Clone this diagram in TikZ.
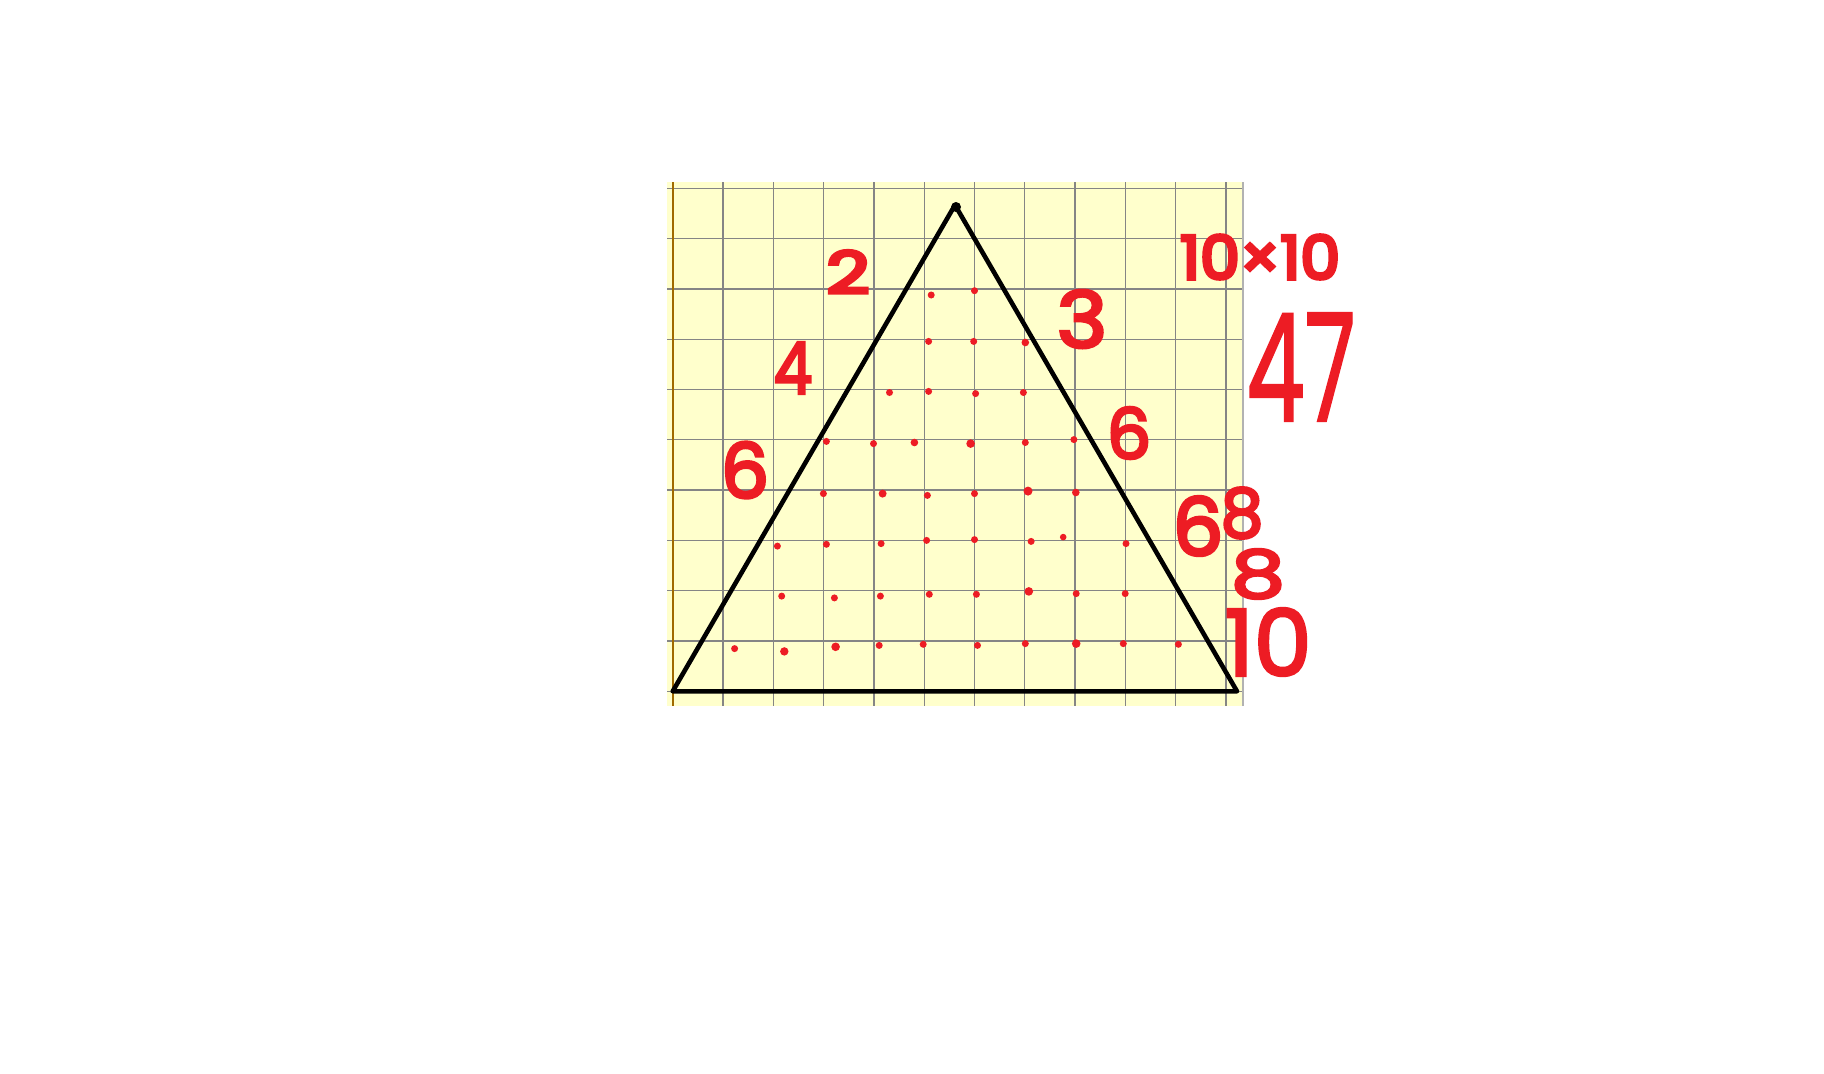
\documentclass[tikz,border=0pt]{standalone}
\usepackage{fontspec}
\usepackage{graphicx}
\setmainfont{Poppins}
\newfontfamily\handA{Poppins}[FakeBold=6]
\newfontfamily\handB{Poppins}[FakeBold=4]
\newfontfamily\handC{Poppins}[FakeBold=3]
\newfontfamily\handD{Poppins}[FakeBold=1.5]
\definecolor{paper}{HTML}{FFFFCC}
\definecolor{pen}{HTML}{ED1C24}
\definecolor{gridgray}{HTML}{858585}
\definecolor{marginline}{HTML}{A06A00}
\tikzset{
  gridline/.style={gridgray, line width=1.3pt},
  shape line/.style={black, line width=4.6pt, line join=round, line cap=round},
  pendot/.style={fill=pen},
  hand/.style={text=pen, inner sep=0pt, anchor=center},
}
\newcommand{\handsz}[1]{\fontsize{#1}{#1}\selectfont}
\begin{document}
\begin{tikzpicture}[x=1pt,y=-1pt]
\useasboundingbox[fill=white] (0,0) rectangle (1824,1074);
% paper
\fill[paper] (667,182) rectangle (1243,706);
\foreach \k in {1,...,11}
  \draw[gridline] ({672.7+50.3*\k},182) -- ({672.7+50.3*\k},706);
\foreach \j in {0,...,10}
  \draw[gridline] (667,{188.3+50.3*\j}) -- (1243,{188.3+50.3*\j});
\draw[gray!60, line width=1.5pt] (1243,182) -- (1243,706);
\draw[marginline, line width=2.2pt] (672.7,182) -- (672.7,706);
% triangle
\coordinate (A) at (672.7,691.3);
\coordinate (B) at (1237,691.3);
\coordinate (C) at (955,205);
\draw[shape line] (A) -- (C) -- (B) -- cycle;
\fill (956,207) circle (5);
% dots
\foreach \x/\y/\r in {
  931.2/295.0/3.5, 974.5/290.7/3.5,
  928.6/341.4/3.5, 973.7/341.4/3.5, 1025.3/342.5/3.8,
  889.5/392.5/3.5, 928.6/391.4/3.5, 975.6/393.6/3.5, 1023.4/392.5/3.5,
  826.4/441.4/3.5, 873.5/443.6/3.5, 914.4/442.5/3.8, 970.6/443.6/4.3, 1025.3/442.5/3.5, 1073.9/439.6/3.5,
  823.4/493.6/3.5, 882.6/493.6/4.0, 927.4/495.4/3.5, 974.5/493.6/3.5, 1028.0/491.1/4.5, 1075.8/492.5/3.8,
  777.4/546.1/3.5, 826.4/544.3/3.5, 881.1/543.6/3.5, 926.6/540.4/3.5, 974.5/539.6/3.5, 1031.1/541.4/3.5, 1063.2/537.1/3.3, 1126.0/543.6/3.5,
  781.7/596.1/3.5, 834.4/597.9/3.5, 880.4/596.1/3.5, 929.3/594.3/3.5, 976.4/594.3/3.5, 1028.8/591.4/4.3, 1076.2/593.6/3.5, 1125.2/593.6/3.5,
  734.6/648.6/3.5, 784.3/651.4/4.2, 835.6/646.8/4.3, 879.2/645.4/3.5, 923.2/644.3/3.5, 977.5/645.4/3.5, 1025.3/643.6/3.5, 1076.2/643.6/4.3, 1123.3/643.6/3.5, 1178.4/644.3/3.5}
  \fill[pendot] (\x,\y) circle (\r);
% handwritten labels
\node[hand, font=\handsz{58}\handA] (l2) at (848,272) {\scalebox{1.3}[1]{2}};
\node[hand, font=\handsz{72}\handB] (l4) at (793,368) {\scalebox{0.85}[1]{4}};
\node[hand, font=\handsz{76}\handB] (l6a) at (745,470) {6};
\node[hand, font=\handsz{78}\handB] (l3) at (1082,319) {\scalebox{1.1}[1]{3}};
\node[hand, font=\handsz{70}\handB] (l6b) at (1129,433) {6};
\node[hand, font=\handsz{60}\handA] (l10x10) at (1260,257) {\scalebox{1.05}[1]{10×10}};
\node[hand, font=\handsz{150}\handD] (l47) at (1301,367) {\scalebox{0.62}[1]{47}};
\node[hand, font=\handsz{80}\handB] (l6c) at (1198,526) {6};
\node[hand, font=\handsz{68}\handB] (l8a) at (1242,513) {8};
\node[hand, font=\handsz{66}\handB] (l8b) at (1258,574) {\scalebox{1.3}[1]{8}};
\node[hand, font=\handsz{92}\handC] (l10) at (1268,642) {10};
\end{tikzpicture}
\end{document}
